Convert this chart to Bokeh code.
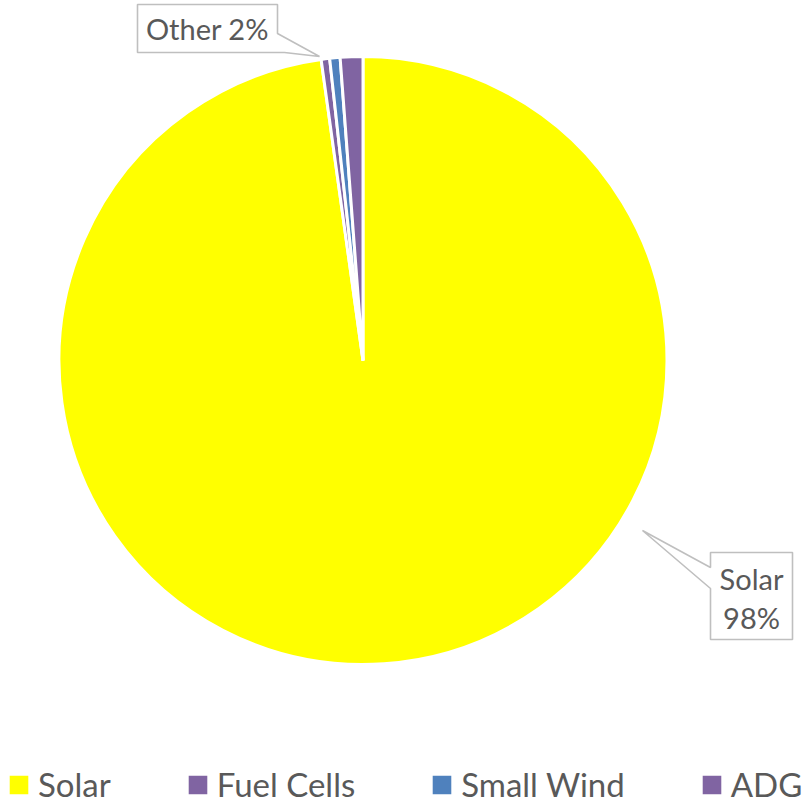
import numpy as np
from bokeh.plotting import figure
from bokeh.models import ColumnDataSource, Range1d, Legend, LegendItem
from bokeh.core.properties import value
from bokeh.embed import file_html
from bokeh.resources import INLINE

# Distributed generation capacity by technology (share of total, %)
categories = ["Solar", "Fuel Cells", "Small Wind", "ADG"]
shares = [97.8, 0.45, 0.55, 1.2]
colors = ["#FFFF00", "#8064A2", "#4F81BD", "#8064A2"]

W, H = 807, 806
FONT = "Lato"
TEXT_COLOR = "#595959"
BOX_LINE = "#BFBFBF"


def Y(y):
    # layout helper: top-down pixel row -> data y (y axis points up)
    return H - y


p = figure(width=W, height=H, output_backend="svg", toolbar_location=None,
           x_range=Range1d(0, W), y_range=Range1d(0, H),
           min_border=0, outline_line_color=None,
           background_fill_color="white", border_fill_color="white")
p.axis.visible = False
p.grid.visible = False

# slices run clockwise from 12 o'clock
frac = np.array(shares) / np.sum(shares)
ends = np.cumsum(frac) * 2 * np.pi
starts = ends - frac * 2 * np.pi
src = ColumnDataSource(dict(
    cat=categories, color=colors,
    start=np.pi / 2 - starts, end=np.pi / 2 - ends,
))
cx, cy, r = 362.5, Y(360), 304
pie = p.wedge(x=cx, y=cy, radius=r, start_angle="start", end_angle="end",
              direction="clock", fill_color="color", line_color="white",
              line_width=3, source=src)

# callout boxes for the data labels
pct = np.round(frac * 100).astype(int)
other_pct = int(round((1 - frac[0]) * 100))

other_box_x = [137, 277, 277, 319, 284, 137]
other_box_y = [4, 4, 33, 56, 52, 52]
solar_box_x = [710, 792, 792, 710, 710, 642, 710]
solar_box_y = [552, 552, 639, 639, 588, 530, 567]
p.patches(xs=[other_box_x, solar_box_x],
          ys=[[Y(v) for v in other_box_y], [Y(v) for v in solar_box_y]],
          fill_color="white", line_color=BOX_LINE, line_width=1.6)

lbl = ColumnDataSource(dict(
    x=[207, 751, 751],
    y=[Y(28), Y(578), Y(617)],
    t=[f"Other {other_pct}%", categories[0], f"{pct[0]}%"],
))
p.text(x="x", y="y", text="t", source=lbl, text_font=value(FONT),
       text_font_size="29px", text_color=TEXT_COLOR,
       text_align="center", text_baseline="middle")

legend = Legend(
    items=[LegendItem(label=c, renderers=[pie], index=i) for i, c in enumerate(categories)],
    orientation="horizontal", location=(5, 2),
    glyph_width=27, glyph_height=27, label_standoff=6, spacing=73,
    padding=0, margin=0, border_line_color=None, background_fill_alpha=0,
    label_text_font=FONT, label_text_font_size="33px", label_text_color=TEXT_COLOR,
)
p.add_layout(legend, "center")

open("out.html", "w").write(file_html(p, INLINE))
